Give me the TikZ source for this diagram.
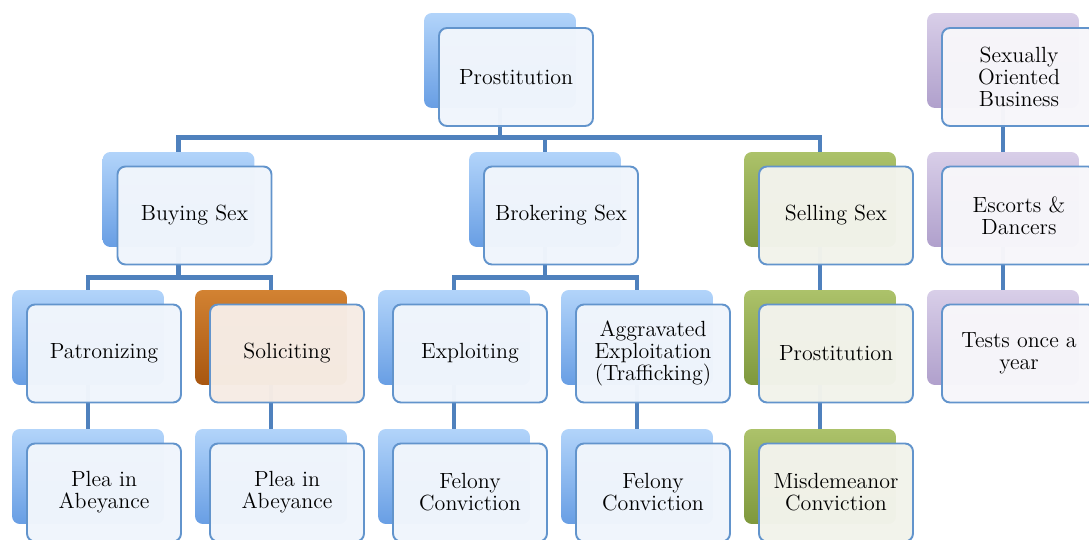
\documentclass[tikz,border=0pt]{standalone}
\usetikzlibrary{backgrounds}
\definecolor{connblue}{RGB}{79,129,189}
\definecolor{frontline}{RGB}{98,148,204}
\definecolor{blueTop}{RGB}{178,212,250}
\definecolor{blueBot}{RGB}{104,158,228}
\definecolor{orangeTop}{RGB}{210,130,50}
\definecolor{orangeBot}{RGB}{168,86,16}
\definecolor{greenTop}{RGB}{172,194,106}
\definecolor{greenBot}{RGB}{126,152,60}
\definecolor{purpleTop}{RGB}{216,206,232}
\definecolor{purpleBot}{RGB}{176,160,204}
\definecolor{blueFill}{RGB}{240,245,252}
\definecolor{orangeFill}{RGB}{246,236,228}
\definecolor{greenFill}{RGB}{242,243,235}
\definecolor{purpleFill}{RGB}{247,246,250}
\begin{document}
\begin{tikzpicture}[x=0.02cm,y=-0.02cm,line cap=round,
  backbox/.style={rounded corners=4.5pt,minimum width=3.04cm,minimum height=1.9cm,inner sep=0pt},
  blueback/.style={backbox,top color=blueTop,bottom color=blueBot},
  orangeback/.style={backbox,top color=orangeTop,bottom color=orangeBot},
  greenback/.style={backbox,top color=greenTop,bottom color=greenBot},
  purpleback/.style={backbox,top color=purpleTop,bottom color=purpleBot},
  frontbox/.style={draw=frontline,line width=1.1pt,rounded corners=4.5pt,
    minimum width=3.08cm,minimum height=1.96cm,inner sep=2pt,align=center,
    font=\fontsize{12.5}{12.5}\selectfont,fill opacity=0.98,text opacity=1},
  conn/.style={draw=connblue,line width=2.8pt,line cap=butt}]
  \useasboundingbox (0,0) rectangle (1089,540);
  % back boxes
  \node[blueback] (root) at (500,60.5) {};
  \node[blueback] (buy) at (178.5,199.5) {};
  \node[blueback] (broker) at (545,199.5) {};
  \node[greenback] (sell) at (820,199.5) {};
  \node[blueback] (patr) at (88,337.5) {};
  \node[orangeback] (soli) at (271,337.5) {};
  \node[blueback] (expl) at (454,337.5) {};
  \node[blueback] (aggr) at (637,337.5) {};
  \node[greenback] (prost) at (820,337.5) {};
  \node[blueback] (pleaA) at (88,476.5) {};
  \node[blueback] (pleaB) at (271,476.5) {};
  \node[blueback] (felA) at (454,476.5) {};
  \node[blueback] (felB) at (637,476.5) {};
  \node[greenback] (misd) at (820,476.5) {};
  \node[purpleback] (sob) at (1003,60.5) {};
  \node[purpleback] (escort) at (1003,199.5) {};
  \node[purpleback] (tests) at (1003,337.5) {};
  % front boxes
  \node[frontbox,fill=blueFill] (rootF) at (516,77) {Prostitution};
  \node[frontbox,fill=blueFill] (buyF) at (194.5,215.5) {Buying Sex};
  \node[frontbox,fill=blueFill] (brokerF) at (561,215.5) {Brokering Sex};
  \node[frontbox,fill=greenFill] (sellF) at (836,215.5) {Selling Sex};
  \node[frontbox,fill=blueFill] (patrF) at (104,353.5) {Patronizing};
  \node[frontbox,fill=orangeFill] (soliF) at (287,353.5) {Soliciting};
  \node[frontbox,fill=blueFill] (explF) at (470,353.5) {Exploiting};
  \node[frontbox,fill=blueFill] (aggrF) at (653,353.5) {Aggravated\\Exploitation\\(Trafficking)};
  \node[frontbox,fill=greenFill] (prostF) at (836,353.5) {Prostitution};
  \node[frontbox,fill=blueFill] (pleaAF) at (104,492.5) {Plea in\\Abeyance};
  \node[frontbox,fill=blueFill] (pleaBF) at (287,492.5) {Plea in\\Abeyance};
  \node[frontbox,fill=blueFill] (felAF) at (470,492.5) {Felony\\Conviction};
  \node[frontbox,fill=blueFill] (felBF) at (653,492.5) {Felony\\Conviction};
  \node[frontbox,fill=greenFill] (misdF) at (836,492.5) {Misdemeanor\\Conviction};
  \node[frontbox,fill=purpleFill] (sobF) at (1019,77) {Sexually\\Oriented\\Business};
  \node[frontbox,fill=purpleFill] (escortF) at (1019,215.5) {Escorts \&\\Dancers};
  \node[frontbox,fill=purpleFill] (testsF) at (1019,353.5) {Tests once a\\year};
  % connectors
  \begin{scope}[on background layer]
    \draw[conn] (root.south) -- ++(0,29) -| (buy.north);
    \draw[conn] (root.south) -- ++(0,29) -| (broker.north);
    \draw[conn] (root.south) -- ++(0,29) -| (sell.north);
    \draw[conn] (buy.south) -- ++(0,30) -| (patr.north);
    \draw[conn] (buy.south) -- ++(0,30) -| (soli.north);
    \draw[conn] (broker.south) -- ++(0,30) -| (expl.north);
    \draw[conn] (broker.south) -- ++(0,30) -| (aggr.north);
    \draw[conn] (sell.south) -- (prost.north);
    \draw[conn] (patr.south) -- (pleaA.north);
    \draw[conn] (soli.south) -- (pleaB.north);
    \draw[conn] (expl.south) -- (felA.north);
    \draw[conn] (aggr.south) -- (felB.north);
    \draw[conn] (prost.south) -- (misd.north);
    \draw[conn] (sob.south) -- (escort.north);
    \draw[conn] (escort.south) -- (tests.north);
  \end{scope}
\end{tikzpicture}
\end{document}
